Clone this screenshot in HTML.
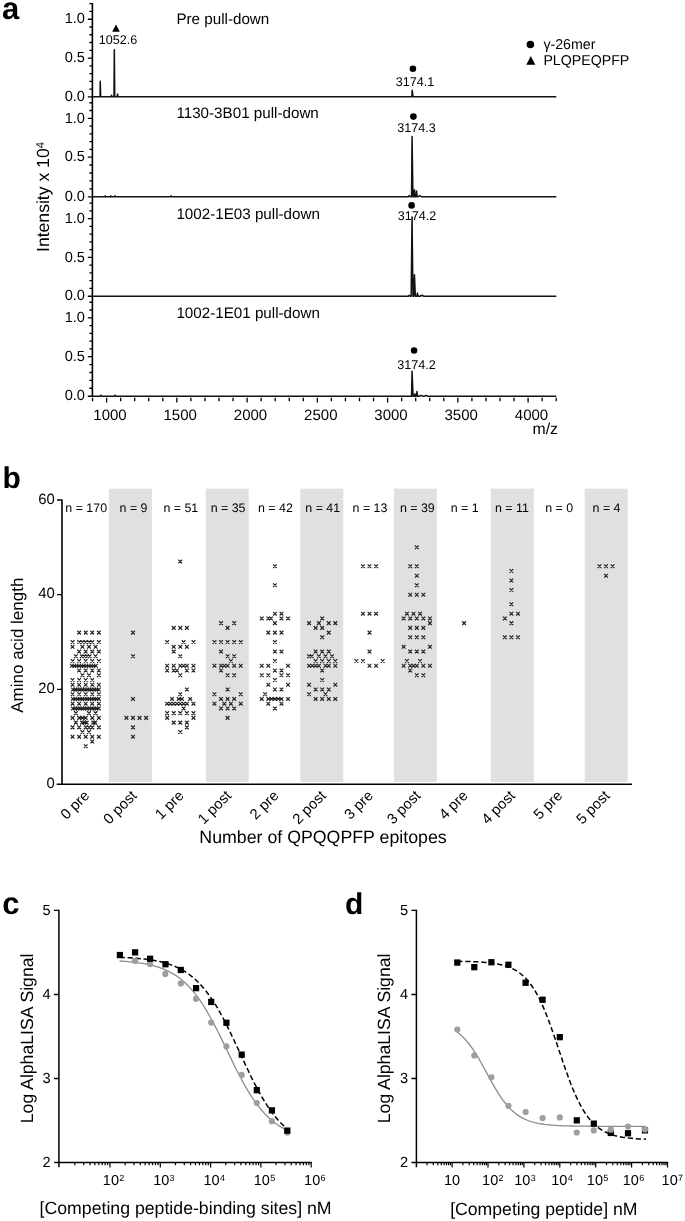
<!DOCTYPE html>
<html lang="en"><head><meta charset="utf-8"><title>Figure</title>
<style>
html,body{margin:0;padding:0;background:#fff;}
body{width:685px;height:1221px;overflow:hidden;}
svg{display:block;font-family:'Liberation Sans', Arial, sans-serif;will-change:transform;}
svg text{text-rendering:geometricPrecision;}
svg text{fill:#000;}
</style></head><body>
<svg width="685" height="1221" viewBox="0 0 685 1221" style="font-family:'Liberation Sans', Arial, sans-serif">
<rect width="685" height="1221" fill="#fff"/>
<g id="panel-a">
<text x="2.1" y="19.1" font-size="31" font-weight="bold">a</text>
<path d="M92.4 2.9 V397.0" stroke="#000" stroke-width="1.6" fill="none"/>
<path d="M92.4 96.85h-4.6M92.4 89.10h-3.0M92.4 81.35h-3.0M92.4 73.60h-3.0M92.4 65.85h-3.0M92.4 58.10h-4.6M92.4 50.32h-3.0M92.4 42.54h-3.0M92.4 34.76h-3.0M92.4 26.98h-3.0M92.4 19.20h-4.6M92.4 11.42h-3.0M92.4 3.64h-3.0M92.4 196.80h-4.6M92.4 188.86h-3.0M92.4 180.92h-3.0M92.4 172.98h-3.0M92.4 165.04h-3.0M92.4 157.10h-4.6M92.4 149.34h-3.0M92.4 141.58h-3.0M92.4 133.82h-3.0M92.4 126.06h-3.0M92.4 118.30h-4.6M92.4 110.54h-3.0M92.4 102.78h-3.0M92.4 296.20h-4.6M92.4 288.42h-3.0M92.4 280.64h-3.0M92.4 272.86h-3.0M92.4 265.08h-3.0M92.4 257.30h-4.6M92.4 249.55h-3.0M92.4 241.80h-3.0M92.4 234.06h-3.0M92.4 226.31h-3.0M92.4 218.56h-4.6M92.4 210.81h-3.0M92.4 203.06h-3.0M92.4 396.20h-4.6M92.4 388.29h-3.0M92.4 380.38h-3.0M92.4 372.47h-3.0M92.4 364.56h-3.0M92.4 356.65h-4.6M92.4 348.88h-3.0M92.4 341.11h-3.0M92.4 333.34h-3.0M92.4 325.57h-3.0M92.4 317.80h-4.6M92.4 310.03h-3.0M92.4 302.26h-3.0" stroke="#000" stroke-width="1.35" fill="none"/>
<text x="85" y="101.0" font-size="14.6" text-anchor="end">0.0</text>
<text x="85" y="62.3" font-size="14.6" text-anchor="end">0.5</text>
<text x="85" y="23.4" font-size="14.6" text-anchor="end">1.0</text>
<text x="85" y="201.0" font-size="14.6" text-anchor="end">0.0</text>
<text x="85" y="161.3" font-size="14.6" text-anchor="end">0.5</text>
<text x="85" y="122.5" font-size="14.6" text-anchor="end">1.0</text>
<text x="85" y="300.4" font-size="14.6" text-anchor="end">0.0</text>
<text x="85" y="261.5" font-size="14.6" text-anchor="end">0.5</text>
<text x="85" y="222.8" font-size="14.6" text-anchor="end">1.0</text>
<text x="85" y="400.1" font-size="14.6" text-anchor="end">0.0</text>
<text x="85" y="360.8" font-size="14.6" text-anchor="end">0.5</text>
<text x="85" y="322.0" font-size="14.6" text-anchor="end">1.0</text>
<path d="M92.55 397.8V401.2M106.60 397.8V402.59999999999997M120.65 397.8V401.2M134.70 397.8V401.2M148.75 397.8V401.2M162.80 397.8V401.2M176.85 397.8V402.59999999999997M190.90 397.8V401.2M204.95 397.8V401.2M219.00 397.8V401.2M233.05 397.8V401.2M247.10 397.8V402.59999999999997M261.15 397.8V401.2M275.20 397.8V401.2M289.25 397.8V401.2M303.30 397.8V401.2M317.35 397.8V402.59999999999997M331.40 397.8V401.2M345.45 397.8V401.2M359.50 397.8V401.2M373.55 397.8V401.2M387.60 397.8V402.59999999999997M401.65 397.8V401.2M415.70 397.8V401.2M429.75 397.8V401.2M443.80 397.8V401.2M457.85 397.8V402.59999999999997M471.90 397.8V401.2M485.95 397.8V401.2M500.00 397.8V401.2M514.05 397.8V401.2M528.10 397.8V402.59999999999997M542.15 397.8V401.2M556.20 397.8V401.2" stroke="#000" stroke-width="1.3" fill="none"/>
<text x="110.0" y="420.4" font-size="15" text-anchor="middle">1000</text>
<text x="180.2" y="420.4" font-size="15" text-anchor="middle">1500</text>
<text x="250.5" y="420.4" font-size="15" text-anchor="middle">2000</text>
<text x="320.8" y="420.4" font-size="15" text-anchor="middle">2500</text>
<text x="391.0" y="420.4" font-size="15" text-anchor="middle">3000</text>
<text x="461.2" y="420.4" font-size="15" text-anchor="middle">3500</text>
<text x="531.5" y="420.4" font-size="15" text-anchor="middle">4000</text>
<text x="558.0" y="433.7" font-size="15.8" text-anchor="end">m/z</text>
<text transform="translate(48.5,197.0) rotate(-90)" font-size="17.6" text-anchor="middle">Intensity x 10<tspan dy="-4.7" font-size="11.3">4</tspan></text>
<text x="176.4" y="24.4" font-size="15.2">Pre pull-down</text>
<text x="176.4" y="117.7" font-size="15.2">1130-3B01 pull-down</text>
<text x="176.4" y="219.0" font-size="15.2">1002-1E03 pull-down</text>
<text x="176.4" y="318.0" font-size="15.2">1002-1E01 pull-down</text>
<path d="M92.4 96.75L100.07 96.75L100.22 81.23L100.67 96.75L111.02 96.75L111.52 95.20L112.02 96.75L113.98 96.75L114.33 49.80L114.73 96.75L117.06 96.75L117.56 94.03L118.06 96.75L411.89 96.75L412.19 90.15L412.99 96.75L556.3 96.75" stroke="#111" stroke-width="1.5" fill="none" stroke-linejoin="round"/>
<path d="M92.4 196.75L104.59 196.75L105.19 195.82L105.79 196.75L110.22 196.75L110.81 195.82L111.41 196.75L114.43 196.75L115.03 195.82L115.63 196.75L170.63 196.75L171.23 195.82L171.83 196.75L408.24 196.75L409.24 195.59L410.24 196.75L411.55 196.75L412.05 136.61L412.95 196.75L413.94 196.75L414.44 189.77L414.94 196.75L416.04 196.75L416.54 190.93L417.14 196.75L418.27 196.75L419.77 195.59L421.27 196.75L556.3 196.75" stroke="#111" stroke-width="1.5" fill="none" stroke-linejoin="round"/>
<path d="M92.4 296.2L408.24 296.2L409.24 295.27L410.24 296.2L411.15 296.2L412.05 217.05L412.95 296.2L413.74 296.2L414.44 274.86L415.34 296.2L416.89 296.2L417.39 293.10L418.19 296.2L419.88 296.2L421.88 295.27L423.88 296.2L556.3 296.2" stroke="#111" stroke-width="1.5" fill="none" stroke-linejoin="round"/>
<path d="M92.4 396.2L100.38 396.2L100.98 395.27L101.58 396.2L114.43 396.2L115.03 395.27L115.63 396.2L411.55 396.2L412.05 371.37L413.05 396.2L414.36 396.2L414.86 393.87L415.36 396.2L416.36 396.2L416.96 391.54L417.66 396.2L419.68 396.2L421.18 395.27L422.68 396.2L424.60 396.2L426.10 395.27L427.60 396.2L556.3 396.2" stroke="#111" stroke-width="1.5" fill="none" stroke-linejoin="round"/>
<text x="118" y="44.3" font-size="12.6" text-anchor="middle">1052.6</text>
<path d="M116 24.6 L119.8 31.7 H112.2Z" fill="#000"/>
<circle cx="412.9" cy="68.75" r="3.3" fill="#000"/>
<text x="415.0" y="85.5" font-size="12.6" text-anchor="middle">3174.1</text>
<circle cx="413.4" cy="116.6" r="3.3" fill="#000"/>
<text x="416.6" y="131.8" font-size="12.6" text-anchor="middle">3174.3</text>
<circle cx="411.6" cy="205.4" r="3.3" fill="#000"/>
<text x="417.1" y="219.5" font-size="12.6" text-anchor="middle">3174.2</text>
<circle cx="414.1" cy="350.5" r="3.3" fill="#000"/>
<text x="416.6" y="368.9" font-size="12.6" text-anchor="middle">3174.2</text>
<circle cx="530.4" cy="44.5" r="3.8" fill="#000"/>
<path d="M530.8 56 L535.3 64.8 H526.3Z" fill="#000"/>
<text x="543.4" y="48.6" font-size="14.2">γ-26mer</text>
<text x="543.4" y="64.7" font-size="14.2">PLQPEQPFP</text>
</g>
<g id="panel-b">
<text x="2.4" y="487.7" font-size="30" font-weight="bold">b</text>
<rect x="108.9" y="488.6" width="43" height="293.3" fill="#e0e0e0"/>
<rect x="205.7" y="488.6" width="43" height="293.3" fill="#e0e0e0"/>
<rect x="300.3" y="488.6" width="43" height="293.3" fill="#e0e0e0"/>
<rect x="393.9" y="488.6" width="43" height="293.3" fill="#e0e0e0"/>
<rect x="490.8" y="488.6" width="43" height="293.3" fill="#e0e0e0"/>
<rect x="584.7" y="488.6" width="43" height="293.3" fill="#e0e0e0"/>
<path d="M62.0 499.4 V784.2 M56.7 784.2 H632" stroke="#000" stroke-width="1.6" fill="none"/>
<path d="M62.0 689.46h-5M62.0 594.72h-5M62.0 499.98h-5" stroke="#000" stroke-width="1.3" fill="none"/>
<text x="54.8" y="787.7" font-size="14.9" text-anchor="end">0</text>
<text x="54.8" y="693.0" font-size="14.9" text-anchor="end">20</text>
<text x="54.8" y="598.2" font-size="14.9" text-anchor="end">40</text>
<text x="54.8" y="503.5" font-size="14.9" text-anchor="end">60</text>
<text transform="translate(23.2,645.2) rotate(-90)" font-size="17.0" text-anchor="middle">Amino acid length</text>
<text x="323.0" y="842.5" font-size="17.75" text-anchor="middle">Number of QPQQPFP epitopes</text>
<text x="86.2" y="512.2" font-size="12.4" text-anchor="middle">n = 170</text>
<text transform="translate(90.3,796.5) rotate(-45)" font-size="14.75" text-anchor="end">0 pre</text>
<text x="133.5" y="512.2" font-size="12.4" text-anchor="middle">n = 9</text>
<text transform="translate(137.6,796.5) rotate(-45)" font-size="14.75" text-anchor="end">0 post</text>
<text x="180.8" y="512.2" font-size="12.4" text-anchor="middle">n = 51</text>
<text transform="translate(184.9,796.5) rotate(-45)" font-size="14.75" text-anchor="end">1 pre</text>
<text x="228.1" y="512.2" font-size="12.4" text-anchor="middle">n = 35</text>
<text transform="translate(232.2,796.5) rotate(-45)" font-size="14.75" text-anchor="end">1 post</text>
<text x="275.4" y="512.2" font-size="12.4" text-anchor="middle">n = 42</text>
<text transform="translate(279.5,796.5) rotate(-45)" font-size="14.75" text-anchor="end">2 pre</text>
<text x="322.7" y="512.2" font-size="12.4" text-anchor="middle">n = 41</text>
<text transform="translate(326.8,796.5) rotate(-45)" font-size="14.75" text-anchor="end">2 post</text>
<text x="370.0" y="512.2" font-size="12.4" text-anchor="middle">n = 13</text>
<text transform="translate(374.1,796.5) rotate(-45)" font-size="14.75" text-anchor="end">3 pre</text>
<text x="417.3" y="512.2" font-size="12.4" text-anchor="middle">n = 39</text>
<text transform="translate(421.4,796.5) rotate(-45)" font-size="14.75" text-anchor="end">3 post</text>
<text x="464.6" y="512.2" font-size="12.4" text-anchor="middle">n = 1</text>
<text transform="translate(468.7,796.5) rotate(-45)" font-size="14.75" text-anchor="end">4 pre</text>
<text x="511.9" y="512.2" font-size="12.4" text-anchor="middle">n = 11</text>
<text transform="translate(516.0,796.5) rotate(-45)" font-size="14.75" text-anchor="end">4 post</text>
<text x="559.2" y="512.2" font-size="12.4" text-anchor="middle">n = 0</text>
<text transform="translate(563.3,796.5) rotate(-45)" font-size="14.75" text-anchor="end">5 pre</text>
<text x="606.5" y="512.2" font-size="12.4" text-anchor="middle">n = 4</text>
<text transform="translate(610.6,796.5) rotate(-45)" font-size="14.75" text-anchor="end">5 post</text>
<path d="M77.28 630.77l3.7 3.7m0-3.7l-3.7 3.7M83.85 630.77l3.7 3.7m0-3.7l-3.7 3.7M90.42 630.77l3.7 3.7m0-3.7l-3.7 3.7M96.99 630.77l3.7 3.7m0-3.7l-3.7 3.7M70.71 640.24l3.7 3.7m0-3.7l-3.7 3.7M77.28 640.24l3.7 3.7m0-3.7l-3.7 3.7M80.57 640.24l3.7 3.7m0-3.7l-3.7 3.7M83.85 640.24l3.7 3.7m0-3.7l-3.7 3.7M87.14 640.24l3.7 3.7m0-3.7l-3.7 3.7M90.42 640.24l3.7 3.7m0-3.7l-3.7 3.7M96.99 640.24l3.7 3.7m0-3.7l-3.7 3.7M70.71 644.98l3.7 3.7m0-3.7l-3.7 3.7M80.57 644.98l3.7 3.7m0-3.7l-3.7 3.7M87.14 644.98l3.7 3.7m0-3.7l-3.7 3.7M93.71 644.98l3.7 3.7m0-3.7l-3.7 3.7M77.28 649.71l3.7 3.7m0-3.7l-3.7 3.7M83.85 649.71l3.7 3.7m0-3.7l-3.7 3.7M90.42 649.71l3.7 3.7m0-3.7l-3.7 3.7M96.99 649.71l3.7 3.7m0-3.7l-3.7 3.7M74.00 654.45l3.7 3.7m0-3.7l-3.7 3.7M79.91 654.45l3.7 3.7m0-3.7l-3.7 3.7M82.54 654.45l3.7 3.7m0-3.7l-3.7 3.7M85.16 654.45l3.7 3.7m0-3.7l-3.7 3.7M87.79 654.45l3.7 3.7m0-3.7l-3.7 3.7M93.71 654.45l3.7 3.7m0-3.7l-3.7 3.7M70.71 659.19l3.7 3.7m0-3.7l-3.7 3.7M77.28 659.19l3.7 3.7m0-3.7l-3.7 3.7M83.85 659.19l3.7 3.7m0-3.7l-3.7 3.7M90.42 659.19l3.7 3.7m0-3.7l-3.7 3.7M96.99 659.19l3.7 3.7m0-3.7l-3.7 3.7M70.05 663.93l3.7 3.7m0-3.7l-3.7 3.7M72.45 663.93l3.7 3.7m0-3.7l-3.7 3.7M74.85 663.93l3.7 3.7m0-3.7l-3.7 3.7M77.25 663.93l3.7 3.7m0-3.7l-3.7 3.7M79.65 663.93l3.7 3.7m0-3.7l-3.7 3.7M82.04 663.93l3.7 3.7m0-3.7l-3.7 3.7M84.44 663.93l3.7 3.7m0-3.7l-3.7 3.7M86.84 663.93l3.7 3.7m0-3.7l-3.7 3.7M89.24 663.93l3.7 3.7m0-3.7l-3.7 3.7M91.64 663.93l3.7 3.7m0-3.7l-3.7 3.7M94.03 663.93l3.7 3.7m0-3.7l-3.7 3.7M77.28 668.66l3.7 3.7m0-3.7l-3.7 3.7M83.85 668.66l3.7 3.7m0-3.7l-3.7 3.7M90.42 668.66l3.7 3.7m0-3.7l-3.7 3.7M96.99 668.66l3.7 3.7m0-3.7l-3.7 3.7M80.57 673.40l3.7 3.7m0-3.7l-3.7 3.7M87.14 673.40l3.7 3.7m0-3.7l-3.7 3.7M96.99 673.40l3.7 3.7m0-3.7l-3.7 3.7M70.71 678.14l3.7 3.7m0-3.7l-3.7 3.7M77.28 678.14l3.7 3.7m0-3.7l-3.7 3.7M83.85 678.14l3.7 3.7m0-3.7l-3.7 3.7M90.42 678.14l3.7 3.7m0-3.7l-3.7 3.7M70.71 682.87l3.7 3.7m0-3.7l-3.7 3.7M77.28 682.87l3.7 3.7m0-3.7l-3.7 3.7M83.85 682.87l3.7 3.7m0-3.7l-3.7 3.7M90.42 682.87l3.7 3.7m0-3.7l-3.7 3.7M96.99 682.87l3.7 3.7m0-3.7l-3.7 3.7M71.04 687.61l3.7 3.7m0-3.7l-3.7 3.7M73.40 687.61l3.7 3.7m0-3.7l-3.7 3.7M75.76 687.61l3.7 3.7m0-3.7l-3.7 3.7M78.12 687.61l3.7 3.7m0-3.7l-3.7 3.7M80.48 687.61l3.7 3.7m0-3.7l-3.7 3.7M82.83 687.61l3.7 3.7m0-3.7l-3.7 3.7M85.19 687.61l3.7 3.7m0-3.7l-3.7 3.7M87.55 687.61l3.7 3.7m0-3.7l-3.7 3.7M89.91 687.61l3.7 3.7m0-3.7l-3.7 3.7M92.27 687.61l3.7 3.7m0-3.7l-3.7 3.7M94.63 687.61l3.7 3.7m0-3.7l-3.7 3.7M96.99 687.61l3.7 3.7m0-3.7l-3.7 3.7M70.71 692.35l3.7 3.7m0-3.7l-3.7 3.7M77.28 692.35l3.7 3.7m0-3.7l-3.7 3.7M77.28 692.35l3.7 3.7m0-3.7l-3.7 3.7M83.85 692.35l3.7 3.7m0-3.7l-3.7 3.7M83.85 692.35l3.7 3.7m0-3.7l-3.7 3.7M90.42 692.35l3.7 3.7m0-3.7l-3.7 3.7M90.42 692.35l3.7 3.7m0-3.7l-3.7 3.7M96.99 692.35l3.7 3.7m0-3.7l-3.7 3.7M71.04 697.08l3.7 3.7m0-3.7l-3.7 3.7M73.40 697.08l3.7 3.7m0-3.7l-3.7 3.7M75.76 697.08l3.7 3.7m0-3.7l-3.7 3.7M78.12 697.08l3.7 3.7m0-3.7l-3.7 3.7M80.48 697.08l3.7 3.7m0-3.7l-3.7 3.7M82.83 697.08l3.7 3.7m0-3.7l-3.7 3.7M85.19 697.08l3.7 3.7m0-3.7l-3.7 3.7M87.55 697.08l3.7 3.7m0-3.7l-3.7 3.7M89.91 697.08l3.7 3.7m0-3.7l-3.7 3.7M92.27 697.08l3.7 3.7m0-3.7l-3.7 3.7M94.63 697.08l3.7 3.7m0-3.7l-3.7 3.7M96.99 697.08l3.7 3.7m0-3.7l-3.7 3.7M70.71 701.82l3.7 3.7m0-3.7l-3.7 3.7M77.28 701.82l3.7 3.7m0-3.7l-3.7 3.7M77.28 701.82l3.7 3.7m0-3.7l-3.7 3.7M83.85 701.82l3.7 3.7m0-3.7l-3.7 3.7M83.85 701.82l3.7 3.7m0-3.7l-3.7 3.7M90.42 701.82l3.7 3.7m0-3.7l-3.7 3.7M90.42 701.82l3.7 3.7m0-3.7l-3.7 3.7M96.99 701.82l3.7 3.7m0-3.7l-3.7 3.7M71.04 706.56l3.7 3.7m0-3.7l-3.7 3.7M73.40 706.56l3.7 3.7m0-3.7l-3.7 3.7M75.76 706.56l3.7 3.7m0-3.7l-3.7 3.7M78.12 706.56l3.7 3.7m0-3.7l-3.7 3.7M80.48 706.56l3.7 3.7m0-3.7l-3.7 3.7M82.83 706.56l3.7 3.7m0-3.7l-3.7 3.7M85.19 706.56l3.7 3.7m0-3.7l-3.7 3.7M87.55 706.56l3.7 3.7m0-3.7l-3.7 3.7M89.91 706.56l3.7 3.7m0-3.7l-3.7 3.7M92.27 706.56l3.7 3.7m0-3.7l-3.7 3.7M94.63 706.56l3.7 3.7m0-3.7l-3.7 3.7M96.99 706.56l3.7 3.7m0-3.7l-3.7 3.7M74.00 711.29l3.7 3.7m0-3.7l-3.7 3.7M87.14 711.29l3.7 3.7m0-3.7l-3.7 3.7M93.71 711.29l3.7 3.7m0-3.7l-3.7 3.7M70.71 716.03l3.7 3.7m0-3.7l-3.7 3.7M77.28 716.03l3.7 3.7m0-3.7l-3.7 3.7M80.57 716.03l3.7 3.7m0-3.7l-3.7 3.7M83.85 716.03l3.7 3.7m0-3.7l-3.7 3.7M90.42 716.03l3.7 3.7m0-3.7l-3.7 3.7M96.99 716.03l3.7 3.7m0-3.7l-3.7 3.7M74.00 720.77l3.7 3.7m0-3.7l-3.7 3.7M80.24 720.77l3.7 3.7m0-3.7l-3.7 3.7M82.54 720.77l3.7 3.7m0-3.7l-3.7 3.7M84.84 720.77l3.7 3.7m0-3.7l-3.7 3.7M91.41 720.77l3.7 3.7m0-3.7l-3.7 3.7M93.38 720.77l3.7 3.7m0-3.7l-3.7 3.7M70.71 725.51l3.7 3.7m0-3.7l-3.7 3.7M77.28 725.51l3.7 3.7m0-3.7l-3.7 3.7M83.85 725.51l3.7 3.7m0-3.7l-3.7 3.7M87.14 725.51l3.7 3.7m0-3.7l-3.7 3.7M90.42 725.51l3.7 3.7m0-3.7l-3.7 3.7M96.99 725.51l3.7 3.7m0-3.7l-3.7 3.7M80.57 730.24l3.7 3.7m0-3.7l-3.7 3.7M87.14 730.24l3.7 3.7m0-3.7l-3.7 3.7M70.71 734.98l3.7 3.7m0-3.7l-3.7 3.7M77.28 734.98l3.7 3.7m0-3.7l-3.7 3.7M83.85 734.98l3.7 3.7m0-3.7l-3.7 3.7M90.42 734.98l3.7 3.7m0-3.7l-3.7 3.7M96.99 734.98l3.7 3.7m0-3.7l-3.7 3.7M90.42 739.72l3.7 3.7m0-3.7l-3.7 3.7M83.85 744.45l3.7 3.7m0-3.7l-3.7 3.7M131.15 630.77l3.7 3.7m0-3.7l-3.7 3.7M131.15 654.45l3.7 3.7m0-3.7l-3.7 3.7M131.15 697.08l3.7 3.7m0-3.7l-3.7 3.7M124.58 716.03l3.7 3.7m0-3.7l-3.7 3.7M131.15 716.03l3.7 3.7m0-3.7l-3.7 3.7M137.72 716.03l3.7 3.7m0-3.7l-3.7 3.7M144.29 716.03l3.7 3.7m0-3.7l-3.7 3.7M131.15 725.51l3.7 3.7m0-3.7l-3.7 3.7M131.15 734.98l3.7 3.7m0-3.7l-3.7 3.7M178.45 559.71l3.7 3.7m0-3.7l-3.7 3.7M171.88 626.03l3.7 3.7m0-3.7l-3.7 3.7M178.45 626.03l3.7 3.7m0-3.7l-3.7 3.7M185.02 626.03l3.7 3.7m0-3.7l-3.7 3.7M165.31 640.24l3.7 3.7m0-3.7l-3.7 3.7M181.74 640.24l3.7 3.7m0-3.7l-3.7 3.7M191.59 640.24l3.7 3.7m0-3.7l-3.7 3.7M171.88 644.98l3.7 3.7m0-3.7l-3.7 3.7M178.45 644.98l3.7 3.7m0-3.7l-3.7 3.7M185.02 644.98l3.7 3.7m0-3.7l-3.7 3.7M171.88 649.71l3.7 3.7m0-3.7l-3.7 3.7M178.45 654.45l3.7 3.7m0-3.7l-3.7 3.7M165.31 663.93l3.7 3.7m0-3.7l-3.7 3.7M171.88 663.93l3.7 3.7m0-3.7l-3.7 3.7M178.45 663.93l3.7 3.7m0-3.7l-3.7 3.7M181.74 663.93l3.7 3.7m0-3.7l-3.7 3.7M185.02 663.93l3.7 3.7m0-3.7l-3.7 3.7M191.59 663.93l3.7 3.7m0-3.7l-3.7 3.7M165.31 668.66l3.7 3.7m0-3.7l-3.7 3.7M171.88 668.66l3.7 3.7m0-3.7l-3.7 3.7M175.17 668.66l3.7 3.7m0-3.7l-3.7 3.7M185.02 668.66l3.7 3.7m0-3.7l-3.7 3.7M191.59 668.66l3.7 3.7m0-3.7l-3.7 3.7M178.45 673.40l3.7 3.7m0-3.7l-3.7 3.7M185.02 687.61l3.7 3.7m0-3.7l-3.7 3.7M178.45 692.35l3.7 3.7m0-3.7l-3.7 3.7M170.24 697.08l3.7 3.7m0-3.7l-3.7 3.7M176.81 697.08l3.7 3.7m0-3.7l-3.7 3.7M180.09 697.08l3.7 3.7m0-3.7l-3.7 3.7M188.31 697.08l3.7 3.7m0-3.7l-3.7 3.7M165.31 701.82l3.7 3.7m0-3.7l-3.7 3.7M168.60 701.82l3.7 3.7m0-3.7l-3.7 3.7M171.88 701.82l3.7 3.7m0-3.7l-3.7 3.7M175.17 701.82l3.7 3.7m0-3.7l-3.7 3.7M178.45 701.82l3.7 3.7m0-3.7l-3.7 3.7M181.74 701.82l3.7 3.7m0-3.7l-3.7 3.7M185.02 701.82l3.7 3.7m0-3.7l-3.7 3.7M191.59 701.82l3.7 3.7m0-3.7l-3.7 3.7M181.74 706.56l3.7 3.7m0-3.7l-3.7 3.7M165.31 711.29l3.7 3.7m0-3.7l-3.7 3.7M171.88 711.29l3.7 3.7m0-3.7l-3.7 3.7M178.45 711.29l3.7 3.7m0-3.7l-3.7 3.7M185.02 711.29l3.7 3.7m0-3.7l-3.7 3.7M191.59 711.29l3.7 3.7m0-3.7l-3.7 3.7M165.31 716.03l3.7 3.7m0-3.7l-3.7 3.7M191.59 716.03l3.7 3.7m0-3.7l-3.7 3.7M171.88 720.77l3.7 3.7m0-3.7l-3.7 3.7M178.45 720.77l3.7 3.7m0-3.7l-3.7 3.7M185.02 720.77l3.7 3.7m0-3.7l-3.7 3.7M185.02 725.51l3.7 3.7m0-3.7l-3.7 3.7M178.45 730.24l3.7 3.7m0-3.7l-3.7 3.7M219.18 621.29l3.7 3.7m0-3.7l-3.7 3.7M232.32 621.29l3.7 3.7m0-3.7l-3.7 3.7M225.75 626.03l3.7 3.7m0-3.7l-3.7 3.7M212.61 640.24l3.7 3.7m0-3.7l-3.7 3.7M219.18 640.24l3.7 3.7m0-3.7l-3.7 3.7M225.75 640.24l3.7 3.7m0-3.7l-3.7 3.7M232.32 640.24l3.7 3.7m0-3.7l-3.7 3.7M238.89 640.24l3.7 3.7m0-3.7l-3.7 3.7M219.18 649.71l3.7 3.7m0-3.7l-3.7 3.7M225.75 654.45l3.7 3.7m0-3.7l-3.7 3.7M232.32 654.45l3.7 3.7m0-3.7l-3.7 3.7M229.03 659.19l3.7 3.7m0-3.7l-3.7 3.7M212.61 663.93l3.7 3.7m0-3.7l-3.7 3.7M219.18 663.93l3.7 3.7m0-3.7l-3.7 3.7M222.46 663.93l3.7 3.7m0-3.7l-3.7 3.7M225.75 663.93l3.7 3.7m0-3.7l-3.7 3.7M232.32 663.93l3.7 3.7m0-3.7l-3.7 3.7M238.89 663.93l3.7 3.7m0-3.7l-3.7 3.7M219.18 668.66l3.7 3.7m0-3.7l-3.7 3.7M225.75 673.40l3.7 3.7m0-3.7l-3.7 3.7M232.32 673.40l3.7 3.7m0-3.7l-3.7 3.7M225.75 687.61l3.7 3.7m0-3.7l-3.7 3.7M212.61 692.35l3.7 3.7m0-3.7l-3.7 3.7M238.89 692.35l3.7 3.7m0-3.7l-3.7 3.7M219.18 697.08l3.7 3.7m0-3.7l-3.7 3.7M225.75 697.08l3.7 3.7m0-3.7l-3.7 3.7M232.32 697.08l3.7 3.7m0-3.7l-3.7 3.7M212.61 701.82l3.7 3.7m0-3.7l-3.7 3.7M222.46 701.82l3.7 3.7m0-3.7l-3.7 3.7M229.03 701.82l3.7 3.7m0-3.7l-3.7 3.7M238.89 701.82l3.7 3.7m0-3.7l-3.7 3.7M219.18 706.56l3.7 3.7m0-3.7l-3.7 3.7M225.75 706.56l3.7 3.7m0-3.7l-3.7 3.7M232.32 706.56l3.7 3.7m0-3.7l-3.7 3.7M225.75 716.03l3.7 3.7m0-3.7l-3.7 3.7M273.05 564.45l3.7 3.7m0-3.7l-3.7 3.7M273.05 583.40l3.7 3.7m0-3.7l-3.7 3.7M273.05 611.82l3.7 3.7m0-3.7l-3.7 3.7M279.62 611.82l3.7 3.7m0-3.7l-3.7 3.7M259.91 616.55l3.7 3.7m0-3.7l-3.7 3.7M266.48 616.55l3.7 3.7m0-3.7l-3.7 3.7M269.11 616.55l3.7 3.7m0-3.7l-3.7 3.7M279.62 616.55l3.7 3.7m0-3.7l-3.7 3.7M286.19 616.55l3.7 3.7m0-3.7l-3.7 3.7M273.05 621.29l3.7 3.7m0-3.7l-3.7 3.7M266.48 630.77l3.7 3.7m0-3.7l-3.7 3.7M273.05 630.77l3.7 3.7m0-3.7l-3.7 3.7M279.62 630.77l3.7 3.7m0-3.7l-3.7 3.7M273.05 640.24l3.7 3.7m0-3.7l-3.7 3.7M273.05 649.71l3.7 3.7m0-3.7l-3.7 3.7M279.62 649.71l3.7 3.7m0-3.7l-3.7 3.7M273.05 659.19l3.7 3.7m0-3.7l-3.7 3.7M259.91 663.93l3.7 3.7m0-3.7l-3.7 3.7M266.48 663.93l3.7 3.7m0-3.7l-3.7 3.7M286.19 663.93l3.7 3.7m0-3.7l-3.7 3.7M273.05 668.66l3.7 3.7m0-3.7l-3.7 3.7M279.62 668.66l3.7 3.7m0-3.7l-3.7 3.7M259.91 673.40l3.7 3.7m0-3.7l-3.7 3.7M266.48 673.40l3.7 3.7m0-3.7l-3.7 3.7M279.62 673.40l3.7 3.7m0-3.7l-3.7 3.7M286.19 673.40l3.7 3.7m0-3.7l-3.7 3.7M273.05 678.14l3.7 3.7m0-3.7l-3.7 3.7M266.48 682.87l3.7 3.7m0-3.7l-3.7 3.7M286.19 682.87l3.7 3.7m0-3.7l-3.7 3.7M273.05 687.61l3.7 3.7m0-3.7l-3.7 3.7M279.62 687.61l3.7 3.7m0-3.7l-3.7 3.7M263.19 692.35l3.7 3.7m0-3.7l-3.7 3.7M259.91 697.08l3.7 3.7m0-3.7l-3.7 3.7M266.48 697.08l3.7 3.7m0-3.7l-3.7 3.7M269.76 697.08l3.7 3.7m0-3.7l-3.7 3.7M273.05 697.08l3.7 3.7m0-3.7l-3.7 3.7M276.33 697.08l3.7 3.7m0-3.7l-3.7 3.7M279.62 697.08l3.7 3.7m0-3.7l-3.7 3.7M286.19 697.08l3.7 3.7m0-3.7l-3.7 3.7M266.48 701.82l3.7 3.7m0-3.7l-3.7 3.7M279.62 701.82l3.7 3.7m0-3.7l-3.7 3.7M273.05 706.56l3.7 3.7m0-3.7l-3.7 3.7M320.35 616.55l3.7 3.7m0-3.7l-3.7 3.7M307.21 621.29l3.7 3.7m0-3.7l-3.7 3.7M317.06 621.29l3.7 3.7m0-3.7l-3.7 3.7M326.92 621.29l3.7 3.7m0-3.7l-3.7 3.7M333.49 621.29l3.7 3.7m0-3.7l-3.7 3.7M313.78 626.03l3.7 3.7m0-3.7l-3.7 3.7M320.35 626.03l3.7 3.7m0-3.7l-3.7 3.7M326.92 630.77l3.7 3.7m0-3.7l-3.7 3.7M320.35 635.50l3.7 3.7m0-3.7l-3.7 3.7M313.78 649.71l3.7 3.7m0-3.7l-3.7 3.7M320.35 649.71l3.7 3.7m0-3.7l-3.7 3.7M326.92 649.71l3.7 3.7m0-3.7l-3.7 3.7M307.21 654.45l3.7 3.7m0-3.7l-3.7 3.7M309.84 654.45l3.7 3.7m0-3.7l-3.7 3.7M317.06 654.45l3.7 3.7m0-3.7l-3.7 3.7M323.63 654.45l3.7 3.7m0-3.7l-3.7 3.7M330.20 654.45l3.7 3.7m0-3.7l-3.7 3.7M313.78 659.19l3.7 3.7m0-3.7l-3.7 3.7M320.35 659.19l3.7 3.7m0-3.7l-3.7 3.7M326.92 659.19l3.7 3.7m0-3.7l-3.7 3.7M333.49 659.19l3.7 3.7m0-3.7l-3.7 3.7M307.21 663.93l3.7 3.7m0-3.7l-3.7 3.7M310.49 663.93l3.7 3.7m0-3.7l-3.7 3.7M313.78 663.93l3.7 3.7m0-3.7l-3.7 3.7M317.06 663.93l3.7 3.7m0-3.7l-3.7 3.7M323.63 663.93l3.7 3.7m0-3.7l-3.7 3.7M326.92 663.93l3.7 3.7m0-3.7l-3.7 3.7M333.49 663.93l3.7 3.7m0-3.7l-3.7 3.7M320.35 668.66l3.7 3.7m0-3.7l-3.7 3.7M320.35 678.14l3.7 3.7m0-3.7l-3.7 3.7M307.21 682.87l3.7 3.7m0-3.7l-3.7 3.7M333.49 682.87l3.7 3.7m0-3.7l-3.7 3.7M313.78 687.61l3.7 3.7m0-3.7l-3.7 3.7M320.35 687.61l3.7 3.7m0-3.7l-3.7 3.7M326.92 687.61l3.7 3.7m0-3.7l-3.7 3.7M307.21 692.35l3.7 3.7m0-3.7l-3.7 3.7M323.63 692.35l3.7 3.7m0-3.7l-3.7 3.7M313.78 697.08l3.7 3.7m0-3.7l-3.7 3.7M320.35 697.08l3.7 3.7m0-3.7l-3.7 3.7M326.92 697.08l3.7 3.7m0-3.7l-3.7 3.7M333.49 697.08l3.7 3.7m0-3.7l-3.7 3.7M361.08 564.45l3.7 3.7m0-3.7l-3.7 3.7M367.65 564.45l3.7 3.7m0-3.7l-3.7 3.7M374.22 564.45l3.7 3.7m0-3.7l-3.7 3.7M361.08 611.82l3.7 3.7m0-3.7l-3.7 3.7M367.65 611.82l3.7 3.7m0-3.7l-3.7 3.7M374.22 611.82l3.7 3.7m0-3.7l-3.7 3.7M367.65 630.77l3.7 3.7m0-3.7l-3.7 3.7M367.65 649.71l3.7 3.7m0-3.7l-3.7 3.7M354.51 659.19l3.7 3.7m0-3.7l-3.7 3.7M361.08 659.19l3.7 3.7m0-3.7l-3.7 3.7M380.79 659.19l3.7 3.7m0-3.7l-3.7 3.7M367.65 663.93l3.7 3.7m0-3.7l-3.7 3.7M374.22 663.93l3.7 3.7m0-3.7l-3.7 3.7M414.95 545.50l3.7 3.7m0-3.7l-3.7 3.7M408.38 564.45l3.7 3.7m0-3.7l-3.7 3.7M414.95 564.45l3.7 3.7m0-3.7l-3.7 3.7M414.95 573.92l3.7 3.7m0-3.7l-3.7 3.7M414.95 583.40l3.7 3.7m0-3.7l-3.7 3.7M408.38 592.87l3.7 3.7m0-3.7l-3.7 3.7M414.95 592.87l3.7 3.7m0-3.7l-3.7 3.7M421.52 592.87l3.7 3.7m0-3.7l-3.7 3.7M405.09 611.82l3.7 3.7m0-3.7l-3.7 3.7M411.66 611.82l3.7 3.7m0-3.7l-3.7 3.7M418.23 611.82l3.7 3.7m0-3.7l-3.7 3.7M401.81 616.55l3.7 3.7m0-3.7l-3.7 3.7M408.38 616.55l3.7 3.7m0-3.7l-3.7 3.7M414.95 616.55l3.7 3.7m0-3.7l-3.7 3.7M421.52 616.55l3.7 3.7m0-3.7l-3.7 3.7M428.09 616.55l3.7 3.7m0-3.7l-3.7 3.7M428.09 621.29l3.7 3.7m0-3.7l-3.7 3.7M408.38 626.03l3.7 3.7m0-3.7l-3.7 3.7M414.95 626.03l3.7 3.7m0-3.7l-3.7 3.7M421.52 626.03l3.7 3.7m0-3.7l-3.7 3.7M408.38 635.50l3.7 3.7m0-3.7l-3.7 3.7M414.95 635.50l3.7 3.7m0-3.7l-3.7 3.7M421.52 635.50l3.7 3.7m0-3.7l-3.7 3.7M401.81 644.98l3.7 3.7m0-3.7l-3.7 3.7M428.09 644.98l3.7 3.7m0-3.7l-3.7 3.7M408.38 649.71l3.7 3.7m0-3.7l-3.7 3.7M414.95 649.71l3.7 3.7m0-3.7l-3.7 3.7M421.52 649.71l3.7 3.7m0-3.7l-3.7 3.7M405.09 659.19l3.7 3.7m0-3.7l-3.7 3.7M418.23 659.19l3.7 3.7m0-3.7l-3.7 3.7M401.81 663.93l3.7 3.7m0-3.7l-3.7 3.7M408.38 663.93l3.7 3.7m0-3.7l-3.7 3.7M411.66 663.93l3.7 3.7m0-3.7l-3.7 3.7M414.95 663.93l3.7 3.7m0-3.7l-3.7 3.7M421.52 663.93l3.7 3.7m0-3.7l-3.7 3.7M428.09 663.93l3.7 3.7m0-3.7l-3.7 3.7M408.38 668.66l3.7 3.7m0-3.7l-3.7 3.7M414.95 673.40l3.7 3.7m0-3.7l-3.7 3.7M421.52 673.40l3.7 3.7m0-3.7l-3.7 3.7M462.25 621.29l3.7 3.7m0-3.7l-3.7 3.7M509.55 569.19l3.7 3.7m0-3.7l-3.7 3.7M509.55 578.66l3.7 3.7m0-3.7l-3.7 3.7M509.55 588.13l3.7 3.7m0-3.7l-3.7 3.7M509.55 602.34l3.7 3.7m0-3.7l-3.7 3.7M509.55 611.82l3.7 3.7m0-3.7l-3.7 3.7M516.12 611.82l3.7 3.7m0-3.7l-3.7 3.7M502.98 616.55l3.7 3.7m0-3.7l-3.7 3.7M509.55 621.29l3.7 3.7m0-3.7l-3.7 3.7M502.98 635.50l3.7 3.7m0-3.7l-3.7 3.7M509.55 635.50l3.7 3.7m0-3.7l-3.7 3.7M516.12 635.50l3.7 3.7m0-3.7l-3.7 3.7M597.58 564.45l3.7 3.7m0-3.7l-3.7 3.7M604.15 564.45l3.7 3.7m0-3.7l-3.7 3.7M610.72 564.45l3.7 3.7m0-3.7l-3.7 3.7M604.15 573.92l3.7 3.7m0-3.7l-3.7 3.7" stroke="#262626" stroke-width="1.2" fill="none"/>
</g>
<g id="panel-c">
<text x="2.2" y="914.3" font-size="31" font-weight="bold">c</text>
<path d="M58.9 909.8 V1167.1999999999998 M54.2 1162.6 H311.8" stroke="#000" stroke-width="1.5" fill="none"/>
<path d="M58.9 1078.5h-5M58.9 994.5h-5M58.9 910.4h-5" stroke="#000" stroke-width="1.3" fill="none"/>
<path d="M74.84 1162.6v2.6M83.70 1162.6v2.6M89.98 1162.6v2.6M94.86 1162.6v2.6M98.84 1162.6v2.6M102.21 1162.6v2.6M105.13 1162.6v2.6M107.70 1162.6v2.6M110.00 1162.6v5.0M125.14 1162.6v2.6M134.00 1162.6v2.6M140.28 1162.6v2.6M145.16 1162.6v2.6M149.14 1162.6v2.6M152.51 1162.6v2.6M155.43 1162.6v2.6M158.00 1162.6v2.6M160.30 1162.6v5.0M175.44 1162.6v2.6M184.30 1162.6v2.6M190.58 1162.6v2.6M195.46 1162.6v2.6M199.44 1162.6v2.6M202.81 1162.6v2.6M205.73 1162.6v2.6M208.30 1162.6v2.6M210.60 1162.6v5.0M225.74 1162.6v2.6M234.60 1162.6v2.6M240.88 1162.6v2.6M245.76 1162.6v2.6M249.74 1162.6v2.6M253.11 1162.6v2.6M256.03 1162.6v2.6M258.60 1162.6v2.6M260.90 1162.6v5.0M276.04 1162.6v2.6M284.90 1162.6v2.6M291.18 1162.6v2.6M296.06 1162.6v2.6M300.04 1162.6v2.6M303.41 1162.6v2.6M306.33 1162.6v2.6M308.90 1162.6v2.6M311.20 1162.6v5.0" stroke="#000" stroke-width="1.2" fill="none"/>
<text x="50.6" y="1166.9" font-size="14.6" text-anchor="end">2</text>
<text x="50.6" y="1082.8" font-size="14.6" text-anchor="end">3</text>
<text x="50.6" y="998.8" font-size="14.6" text-anchor="end">4</text>
<text x="50.6" y="914.7" font-size="14.6" text-anchor="end">5</text>
<text x="113.6" y="1185.1" font-size="14.5" text-anchor="middle">10<tspan dy="-4.4" dx="0.3" font-size="9">2</tspan></text>
<text x="163.9" y="1185.1" font-size="14.5" text-anchor="middle">10<tspan dy="-4.4" dx="0.3" font-size="9">3</tspan></text>
<text x="214.2" y="1185.1" font-size="14.5" text-anchor="middle">10<tspan dy="-4.4" dx="0.3" font-size="9">4</tspan></text>
<text x="264.5" y="1185.1" font-size="14.5" text-anchor="middle">10<tspan dy="-4.4" dx="0.3" font-size="9">5</tspan></text>
<text x="314.8" y="1185.1" font-size="14.5" text-anchor="middle">10<tspan dy="-4.4" dx="0.3" font-size="9">6</tspan></text>
<text transform="translate(32.7,1038.4) rotate(-90)" font-size="17.65" text-anchor="middle">Log AlphaLISA Signal</text>
<text x="185.6" y="1214.2" font-size="17.7" text-anchor="middle">[Competing peptide-binding sites] nM</text>
<path d="M119.6 961.0L121.7 961.1L123.8 961.3L125.9 961.4L128.0 961.6L130.2 961.8L132.3 962.0L134.4 962.3L136.5 962.5L138.6 962.8L140.7 963.1L142.8 963.4L144.9 963.8L147.0 964.2L149.1 964.7L151.2 965.2L153.4 965.7L155.5 966.3L157.6 966.9L159.7 967.6L161.8 968.4L163.9 969.2L166.0 970.1L168.1 971.1L170.2 972.2L172.3 973.4L174.5 974.6L176.6 976.0L178.7 977.5L180.8 979.1L182.9 980.9L185.0 982.8L187.1 984.8L189.2 986.9L191.3 989.2L193.4 991.7L195.6 994.3L197.7 997.1L199.8 1000.1L201.9 1003.2L204.0 1006.5L206.1 1009.9L208.2 1013.5L210.3 1017.2L212.4 1021.1L214.5 1025.1L216.7 1029.2L218.8 1033.3L220.9 1037.6L223.0 1041.9L225.1 1046.3L227.2 1050.7L229.3 1055.1L231.4 1059.4L233.5 1063.7L235.6 1068.0L237.8 1072.2L239.9 1076.3L242.0 1080.2L244.1 1084.1L246.2 1087.8L248.3 1091.4L250.4 1094.8L252.5 1098.0L254.6 1101.1L256.8 1104.1L258.9 1106.8L261.0 1109.5L263.1 1111.9L265.2 1114.2L267.3 1116.3L269.4 1118.3L271.5 1120.2L273.6 1121.9L275.7 1123.5L277.8 1125.0L280.0 1126.4L282.1 1127.7L284.2 1128.8L286.3 1129.9L288.4 1130.9" stroke="#8c8c8c" stroke-width="1.3" fill="none"/>
<path d="M119.6 957.3L121.7 957.4L123.8 957.5L125.9 957.6L128.0 957.7L130.2 957.8L132.3 958.0L134.4 958.1L136.5 958.3L138.6 958.5L140.7 958.7L142.8 958.9L144.9 959.1L147.0 959.4L149.1 959.7L151.2 960.0L153.4 960.3L155.5 960.7L157.6 961.1L159.7 961.6L161.8 962.1L163.9 962.6L166.0 963.2L168.1 963.9L170.2 964.6L172.3 965.4L174.5 966.2L176.6 967.1L178.7 968.1L180.8 969.2L182.9 970.4L185.0 971.6L187.1 973.0L189.2 974.5L191.3 976.1L193.4 977.8L195.6 979.7L197.7 981.7L199.8 983.9L201.9 986.2L204.0 988.6L206.1 991.2L208.2 994.0L210.3 996.9L212.4 1000.0L214.5 1003.3L216.7 1006.7L218.8 1010.3L220.9 1014.1L223.0 1018.0L225.1 1022.0L227.2 1026.1L229.3 1030.4L231.4 1034.8L233.5 1039.2L235.6 1043.7L237.8 1048.2L239.9 1052.8L242.0 1057.4L244.1 1061.9L246.2 1066.4L248.3 1070.8L250.4 1075.2L252.5 1079.5L254.6 1083.7L256.8 1087.7L258.9 1091.6L261.0 1095.4L263.1 1099.0L265.2 1102.5L267.3 1105.8L269.4 1108.9L271.5 1111.9L273.6 1114.7L275.7 1117.3L277.8 1119.8L280.0 1122.1L282.1 1124.3L284.2 1126.3L286.3 1128.2L288.4 1130.0" stroke="#000" stroke-width="1.5" stroke-dasharray="5.2 2.8" fill="none"/>
<circle cx="135.1" cy="960.9" r="3.1" fill="#9e9e9e"/>
<circle cx="150.1" cy="964.1" r="3.1" fill="#9e9e9e"/>
<circle cx="165.3" cy="973.9" r="3.1" fill="#9e9e9e"/>
<circle cx="180.8" cy="983.4" r="3.1" fill="#9e9e9e"/>
<circle cx="196" cy="998.8" r="3.1" fill="#9e9e9e"/>
<circle cx="211.2" cy="1022.6" r="3.1" fill="#9e9e9e"/>
<circle cx="226.4" cy="1046.4" r="3.1" fill="#9e9e9e"/>
<circle cx="241.7" cy="1074.9" r="3.1" fill="#9e9e9e"/>
<circle cx="256.8" cy="1103.1" r="3.1" fill="#9e9e9e"/>
<circle cx="271.9" cy="1121.2" r="3.1" fill="#9e9e9e"/>
<circle cx="287.3" cy="1132.6" r="3.1" fill="#9e9e9e"/>
<rect x="116.8" y="951.9" width="6.2" height="6.3" fill="#000"/>
<rect x="132.0" y="949.2" width="6.2" height="6.3" fill="#000"/>
<rect x="147.0" y="955.6" width="6.2" height="6.3" fill="#000"/>
<rect x="162.4" y="961.1" width="6.2" height="6.3" fill="#000"/>
<rect x="177.7" y="966.8" width="6.2" height="6.3" fill="#000"/>
<rect x="193.0" y="985.0" width="6.2" height="6.3" fill="#000"/>
<rect x="208.1" y="998.8" width="6.2" height="6.3" fill="#000"/>
<rect x="223.3" y="1019.6" width="6.2" height="6.3" fill="#000"/>
<rect x="238.6" y="1051.5" width="6.2" height="6.3" fill="#000"/>
<rect x="253.7" y="1087.0" width="6.2" height="6.3" fill="#000"/>
<rect x="268.8" y="1107.2" width="6.2" height="6.3" fill="#000"/>
<rect x="284.2" y="1127.5" width="6.2" height="6.3" fill="#000"/>
</g>
<g id="panel-d">
<text x="345.1" y="914.3" font-size="30" font-weight="bold">d</text>
<path d="M416.4 909.8 V1167.1999999999998 M411.5 1162.6 H668.2" stroke="#000" stroke-width="1.5" fill="none"/>
<path d="M416.4 1078.5h-5M416.4 994.5h-5M416.4 910.4h-5" stroke="#000" stroke-width="1.3" fill="none"/>
<path d="M427.01 1162.6v2.6M433.33 1162.6v2.6M437.81 1162.6v2.6M441.29 1162.6v2.6M444.14 1162.6v2.6M446.54 1162.6v2.6M448.62 1162.6v2.6M450.46 1162.6v2.6M452.10 1162.6v5.0M462.91 1162.6v2.6M469.23 1162.6v2.6M473.71 1162.6v2.6M477.19 1162.6v2.6M480.04 1162.6v2.6M482.44 1162.6v2.6M484.52 1162.6v2.6M486.36 1162.6v2.6M488.00 1162.6v5.0M498.81 1162.6v2.6M505.13 1162.6v2.6M509.61 1162.6v2.6M513.09 1162.6v2.6M515.94 1162.6v2.6M518.34 1162.6v2.6M520.42 1162.6v2.6M522.26 1162.6v2.6M523.90 1162.6v5.0M534.71 1162.6v2.6M541.03 1162.6v2.6M545.51 1162.6v2.6M548.99 1162.6v2.6M551.84 1162.6v2.6M554.24 1162.6v2.6M556.32 1162.6v2.6M558.16 1162.6v2.6M559.80 1162.6v5.0M570.61 1162.6v2.6M576.93 1162.6v2.6M581.41 1162.6v2.6M584.89 1162.6v2.6M587.74 1162.6v2.6M590.14 1162.6v2.6M592.22 1162.6v2.6M594.06 1162.6v2.6M595.70 1162.6v5.0M606.51 1162.6v2.6M612.83 1162.6v2.6M617.31 1162.6v2.6M620.79 1162.6v2.6M623.64 1162.6v2.6M626.04 1162.6v2.6M628.12 1162.6v2.6M629.96 1162.6v2.6M631.60 1162.6v5.0M642.41 1162.6v2.6M648.73 1162.6v2.6M653.21 1162.6v2.6M656.69 1162.6v2.6M659.54 1162.6v2.6M661.94 1162.6v2.6M664.02 1162.6v2.6M665.86 1162.6v2.6M667.50 1162.6v5.0" stroke="#000" stroke-width="1.2" fill="none"/>
<text x="408" y="1166.9" font-size="14.6" text-anchor="end">2</text>
<text x="408" y="1082.8" font-size="14.6" text-anchor="end">3</text>
<text x="408" y="998.8" font-size="14.6" text-anchor="end">4</text>
<text x="408" y="914.7" font-size="14.6" text-anchor="end">5</text>
<text x="452.1" y="1185.2" font-size="14.5" text-anchor="middle">10</text>
<text x="492.8" y="1185.2" font-size="14.5" text-anchor="middle">10<tspan dy="-4.4" dx="0.3" font-size="9">2</tspan></text>
<text x="525.0" y="1185.2" font-size="14.5" text-anchor="middle">10<tspan dy="-4.4" dx="0.3" font-size="9">3</tspan></text>
<text x="562.0" y="1185.2" font-size="14.5" text-anchor="middle">10<tspan dy="-4.4" dx="0.3" font-size="9">4</tspan></text>
<text x="597.6" y="1185.2" font-size="14.5" text-anchor="middle">10<tspan dy="-4.4" dx="0.3" font-size="9">5</tspan></text>
<text x="633.5" y="1185.2" font-size="14.5" text-anchor="middle">10<tspan dy="-4.4" dx="0.3" font-size="9">6</tspan></text>
<text x="672.3" y="1185.2" font-size="14.5" text-anchor="middle">10<tspan dy="-4.4" dx="0.3" font-size="9">7</tspan></text>
<text transform="translate(389.7,1038.4) rotate(-90)" font-size="17.65" text-anchor="middle">Log AlphaLISA Signal</text>
<text x="543.8" y="1214.5" font-size="17.65" text-anchor="middle">[Competing peptide] nM</text>
<path d="M457.3 1032.1L459.7 1034.0L462.0 1036.1L464.4 1038.5L466.7 1041.1L469.1 1044.0L471.4 1047.2L473.8 1050.6L476.1 1054.3L478.5 1058.2L480.8 1062.3L483.2 1066.5L485.5 1070.8L487.9 1075.1L490.3 1079.4L492.6 1083.7L495.0 1087.8L497.3 1091.7L499.7 1095.4L502.0 1098.8L504.4 1102.0L506.7 1104.9L509.1 1107.6L511.4 1110.0L513.8 1112.1L516.1 1114.0L518.5 1115.6L520.9 1117.1L523.2 1118.4L525.6 1119.5L527.9 1120.5L530.3 1121.3L532.6 1122.0L535.0 1122.7L537.3 1123.2L539.7 1123.6L542.0 1124.0L544.4 1124.4L546.7 1124.7L549.1 1124.9L551.5 1125.1L553.8 1125.3L556.2 1125.4L558.5 1125.6L560.9 1125.7L563.2 1125.8L565.6 1125.8L567.9 1125.9L570.3 1126.0L572.6 1126.0L575.0 1126.1L577.3 1126.1L579.7 1126.1L582.0 1126.2L584.4 1126.2L586.8 1126.2L589.1 1126.2L591.5 1126.2L593.8 1126.2L596.2 1126.2L598.5 1126.3L600.9 1126.3L603.2 1126.3L605.6 1126.3L607.9 1126.3L610.3 1126.3L612.6 1126.3L615.0 1126.3L617.4 1126.3L619.7 1126.3L622.1 1126.3L624.4 1126.3L626.8 1126.3L629.1 1126.3L631.5 1126.3L633.8 1126.3L636.2 1126.3L638.5 1126.3L640.9 1126.3L643.2 1126.3L645.6 1126.3" stroke="#8c8c8c" stroke-width="1.3" fill="none"/>
<path d="M457.3 961.3L459.7 961.3L462.0 961.4L464.4 961.4L466.7 961.5L469.1 961.5L471.5 961.6L473.8 961.7L476.2 961.8L478.5 961.9L480.9 962.0L483.2 962.2L485.6 962.4L488.0 962.6L490.3 962.9L492.7 963.2L495.0 963.5L497.4 963.9L499.8 964.4L502.1 965.0L504.5 965.6L506.8 966.3L509.2 967.2L511.6 968.2L513.9 969.4L516.3 970.7L518.6 972.3L521.0 974.0L523.3 976.1L525.7 978.4L528.1 981.0L530.4 984.0L532.8 987.3L535.1 991.0L537.5 995.2L539.9 999.7L542.2 1004.7L544.6 1010.2L546.9 1016.0L549.3 1022.2L551.6 1028.7L554.0 1035.4L556.4 1042.3L558.7 1049.4L561.1 1056.4L563.4 1063.4L565.8 1070.2L568.2 1076.8L570.5 1083.1L572.9 1089.0L575.2 1094.5L577.6 1099.6L580.0 1104.3L582.3 1108.6L584.7 1112.5L587.0 1115.9L589.4 1119.0L591.7 1121.7L594.1 1124.1L596.5 1126.2L598.8 1128.1L601.2 1129.7L603.5 1131.1L605.9 1132.3L608.3 1133.3L610.6 1134.2L613.0 1135.0L615.3 1135.7L617.7 1136.2L620.1 1136.7L622.4 1137.2L624.8 1137.5L627.1 1137.8L629.5 1138.1L631.8 1138.3L634.2 1138.5L636.6 1138.7L638.9 1138.9L641.3 1139.0L643.6 1139.1L646.0 1139.2" stroke="#000" stroke-width="1.5" stroke-dasharray="5.2 2.8" fill="none"/>
<rect x="454.2" y="959.4" width="6.2" height="6.3" fill="#000"/>
<rect x="471.2" y="964.0" width="6.2" height="6.3" fill="#000"/>
<rect x="488.3" y="959.1" width="6.2" height="6.3" fill="#000"/>
<rect x="505.3" y="961.6" width="6.2" height="6.3" fill="#000"/>
<rect x="522.5" y="979.6" width="6.2" height="6.3" fill="#000"/>
<rect x="539.5" y="996.6" width="6.2" height="6.3" fill="#000"/>
<rect x="556.7" y="1034.0" width="6.2" height="6.3" fill="#000"/>
<rect x="573.7" y="1117.2" width="6.2" height="6.3" fill="#000"/>
<rect x="590.7" y="1120.5" width="6.2" height="6.3" fill="#000"/>
<rect x="607.7" y="1129.8" width="6.2" height="6.3" fill="#000"/>
<rect x="624.9" y="1130.1" width="6.2" height="6.3" fill="#000"/>
<rect x="641.9" y="1127.2" width="6.2" height="6.3" fill="#000"/>
<circle cx="457.3" cy="1029.6" r="3.1" fill="#9e9e9e"/>
<circle cx="474.3" cy="1055.4" r="3.1" fill="#9e9e9e"/>
<circle cx="491.4" cy="1077.3" r="3.1" fill="#9e9e9e"/>
<circle cx="508.4" cy="1105.8" r="3.1" fill="#9e9e9e"/>
<circle cx="525.6" cy="1112" r="3.1" fill="#9e9e9e"/>
<circle cx="542.6" cy="1118.1" r="3.1" fill="#9e9e9e"/>
<circle cx="559.8" cy="1117.4" r="3.1" fill="#9e9e9e"/>
<circle cx="576.8" cy="1132.5" r="3.1" fill="#9e9e9e"/>
<circle cx="593.8" cy="1130.4" r="3.1" fill="#9e9e9e"/>
<circle cx="610.8" cy="1129.7" r="3.1" fill="#9e9e9e"/>
<circle cx="628" cy="1126.5" r="3.1" fill="#9e9e9e"/>
<circle cx="645" cy="1129.4" r="3.1" fill="#9e9e9e"/>
</g>
</svg>
</body></html>
